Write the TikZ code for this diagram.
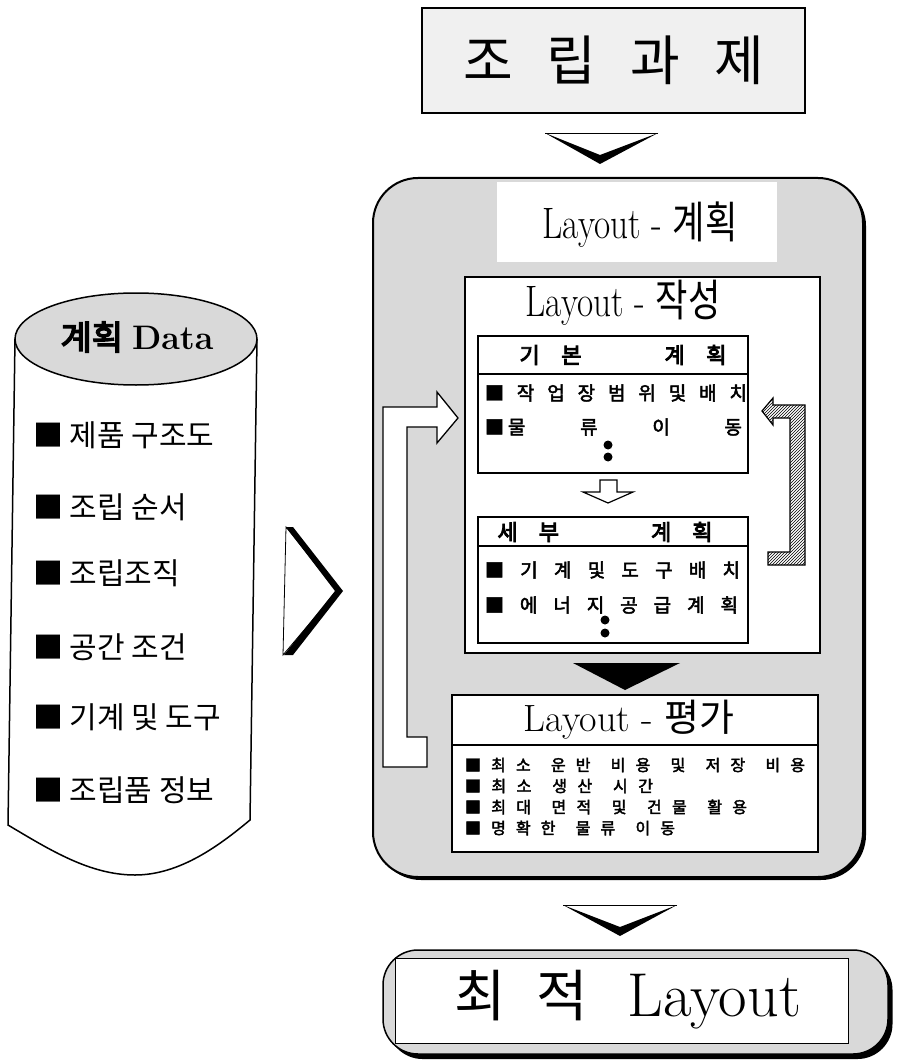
\documentclass[tikz,border=0pt]{standalone}
\usepackage{fontspec}
\newfontfamily\kr{Noto Sans CJK KR}
\newfontfamily\krb[FakeBold=2.5]{Noto Sans CJK KR}
\newfontfamily\krh[FakeBold=4]{Noto Sans CJK KR}
\usetikzlibrary{patterns,shapes.geometric}
\begin{document}
\begin{tikzpicture}[x=1pt,y=-1pt,
  every node/.style={inner sep=0pt,outer sep=0pt},
  wbox/.style={draw,line width=1.4pt,fill=white},
  graybg/.style={fill=gray!30},
  itemL/.style={anchor=west,font=\kr\fontsize{30}{32}\selectfont},
  itemM/.style={anchor=west,font=\krb\fontsize{19}{21}\selectfont},
  itemS/.style={anchor=west,font=\krb\fontsize{16}{18}\selectfont},
  hdr/.style={font=\krh\fontsize{22}{24}\selectfont},
  blockarrow/.style={draw,line width=1.3pt,fill=white,line join=miter},
  chev/.style={fill=black},
  dot/.style={circle,fill=black,minimum size=9pt}]
\useasboundingbox (0,0) rectangle (898,1064);

% ---------- top task box ----------
\node[draw,line width=1.8pt,fill=gray!12,minimum width=383pt,minimum height=105pt] (task) at (613.5,60.5) {};
\node[font=\kr\fontsize{54}{58}\selectfont] (tasktxt) at (task.center) {조\hspace{34pt}립\hspace{34pt}과\hspace{34pt}제};
% chevron down
\draw[line width=0.8pt] (545,133) -- (658,133);
\fill[chev] (545,133) -- (600,164) -- (658,133) -- (600,155) -- cycle;

% ---------- big panel ----------
\node[fill=black,rounded corners=45pt,minimum width=490pt,minimum height=699pt] (planshadow) at (621,530.5) {};
\node[draw,line width=2pt,graybg,rounded corners=45pt,minimum width=490pt,minimum height=699pt] (plan) at (618,527.5) {};
\node[fill=white,minimum width=280pt,minimum height=80pt] (plantitle) at (637,222.5) {};
\node (plantxt) at (640,225) {\scalebox{0.8}[1]{\fontsize{44}{46}\selectfont Layout - {\kr 계획}}};

% Layout - 작성
\node[wbox,minimum width=355pt,minimum height=376pt] (make) at (642.5,465) {};
\node (maketxt) at (623,303) {\scalebox{0.8}[1]{\fontsize{44}{46}\selectfont Layout - {\kr 작성}}};

% 기본 계획
\node[wbox,line width=1.2pt,minimum width=270pt,minimum height=137pt] (basic) at (613,404.5) {};
\draw[line width=1.2pt] ([yshift=-38pt]basic.north west) -- ([yshift=-38pt]basic.north east);
\node[hdr] (basichdr) at (623,355) {\makebox[207pt][s]{기 본 \hspace{40pt} 계 획}};
\node[itemM] (b1) at (485,393) {\makebox[262pt][s]{■ 작 업 장 범 위 및 배 치}};
\node[itemM] (b2) at (485,427) {\makebox[257pt][s]{■\hspace{4pt}물 류 이 동}};
\node[dot] (bd1) at (608,445) {};
\node[dot] (bd2) at (608,457) {};

% small hollow down arrow
\draw[line width=1.2pt,fill=white] (600,480) -- (617,480) -- (617,492) -- (633,492) -- (608,503) -- (583,492) -- (600,492) -- cycle;

% 세부 계획
\node[wbox,line width=1.2pt,minimum width=270pt,minimum height=126pt] (detail) at (613,580) {};
\draw[line width=1.2pt] ([yshift=-29pt]detail.north west) -- ([yshift=-29pt]detail.north east);
\node[hdr] (detailhdr) at (605,532) {\makebox[215pt][s]{세 부 \hspace{50pt} 계 획}};
\node[itemM] (d1) at (485,570) {\makebox[255pt][s]{■ 기 계 및 도 구 배 치}};
\node[itemM] (d2) at (485,605) {\makebox[253pt][s]{■ 에 너 지 공 급 계 획}};
\node[dot] (dd1) at (605,620) {};
\node[dot] (dd2) at (605,633) {};

% black triangle
\fill[chev] (573,663) -- (680,663) -- (625,690) -- cycle;

% Layout - 평가
\node[wbox,minimum width=366pt,minimum height=157pt] (eval) at (635,773.5) {};
\draw[line width=1.4pt] ([yshift=-50pt]eval.north west) -- ([yshift=-50pt]eval.north east);
\node (evaltxt) at (629,720) {\fontsize{38}{40}\selectfont Layout - {\kr 평가}};
\node[itemS] (e1) at (465,765) {\makebox[340pt][s]{■ 최 소 \ 운 반 \ 비 용 \ 및 \ 저 장 \ 비 용}};
\node[itemS] (e2) at (465,786) {\makebox[188pt][s]{■ 최 소 \ 생 산 \ 시 간}};
\node[itemS] (e3) at (465,807) {\makebox[282pt][s]{■ 최 대 \ 면 적 \ 및 \ 건 물 \ 활 용}};
\node[itemS] (e4) at (465,828) {\makebox[210pt][s]{■ 명 확 한 \ 물 류 \ 이 동}};

% left white feedback arrow
\draw[blockarrow] (427,767) -- (383,767) -- (383,407) -- (437,407) -- (437,392) -- (458,418) -- (437,443) -- (437,427) -- (407,427) -- (407,737) -- (427,737) -- cycle;

% right hatched arrow
\draw[line width=1.2pt,pattern=north east lines,line join=miter] (762,411) -- (773,398) -- (773,405) -- (805,405) -- (805,565) -- (768,565) -- (768,552) -- (790,552) -- (790,418) -- (773,418) -- (773,425) -- cycle;

% ---------- cylinder ----------
\draw[line width=1.5pt,fill=white] (15,339) -- (8,825) .. controls (50,850) and (90,875) .. (135,875) .. controls (180,875) and (220,845) .. (250,820) -- (257,339);
\node[ellipse,draw,line width=1.5pt,graybg,minimum width=242pt,minimum height=92pt] (data) at (136,339) {};
\node (datatxt) at (137,337) {{\krh\fontsize{34}{36}\selectfont 계획}\hspace{9pt}{\fontsize{34}{36}\selectfont\bfseries Data}};
\node[itemL] (l1) at (33,435) {■ 제품 구조도};
\node[itemL] (l2) at (33,507) {■ 조립 순서};
\node[itemL] (l3) at (33,573) {■ 조립조직};
\node[itemL] (l4) at (33,647) {■ 공간 조건};
\node[itemL] (l5) at (33,717) {■ 기계 및 도구};
\node[itemL] (l6) at (33,790) {■ 조립품 정보};

% big right chevron
\draw[line width=0.8pt,fill=white] (286,527) -- (337,591) -- (283,655) -- cycle;
\fill[chev] (286,527) -- (293,527) -- (343,591) -- (293,655) -- (284,655) -- (335,591) -- cycle;

% ---------- final ----------
\draw[line width=0.8pt] (563,905) -- (677,905);
\fill[chev] (563,905) -- (620,936) -- (677,905) -- (620,927) -- cycle;
\node[fill=black,rounded corners=35pt,minimum width=505pt,minimum height=104pt] (finshadow) at (640,1007) {};
\node[draw,line width=1.5pt,graybg,rounded corners=35pt,minimum width=505pt,minimum height=104pt] (final) at (635.5,1002) {};
\node[draw,line width=1pt,fill=white,minimum width=453pt,minimum height=85pt] (finalin) at (621.5,1000.5) {};
\node (finaltxt) at (628,1000) {{\kr\fontsize{56}{58}\selectfont 최\hspace{30pt}적}\hspace{40pt}{\fontsize{62}{64}\selectfont Layout}};
\end{tikzpicture}
\end{document}
